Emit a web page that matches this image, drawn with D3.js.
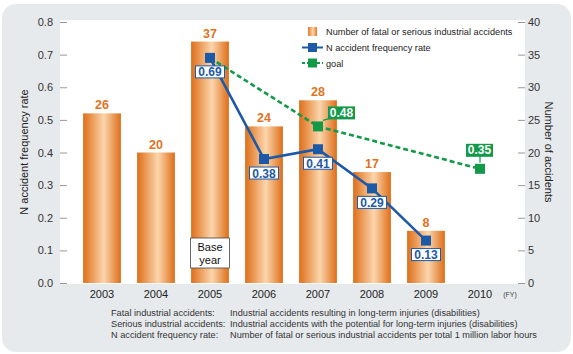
<!DOCTYPE html>
<html>
<head>
<meta charset="utf-8">
<script src="https://cdn.jsdelivr.net/npm/d3@7"></script>
<style>
  html, body { margin: 0; padding: 0; background: #fff; }
  svg { display: block; font-family: "Liberation Sans", Arial, sans-serif; }
</style>
</head>
<body>
<div id="chart"></div>
<script>
// data
const years = ["2003", "2004", "2005", "2006", "2007", "2008", "2009", "2010"];
const accidents = [26, 20, 37, 24, 28, 17, 8, null];
const rateYears = ["2005", "2006", "2007", "2008", "2009"];
const rateValues = [0.69, 0.38, 0.41, 0.29, 0.13];
const goalYears = ["2005", "2007", "2010"];
const goalValues = [0.69, 0.48, 0.35];
const leftTicks = [0, 0.1, 0.2, 0.3, 0.4, 0.5, 0.6, 0.7, 0.8];
const rightTicks = [0, 5, 10, 15, 20, 25, 30, 35, 40];
const notes = [
    ["Fatal industrial accidents:", "Industrial accidents resulting in long-term injuries (disabilities)"],
    ["Serious industrial accidents:", "Industrial accidents with the potential for long-term injuries (disabilities)"],
    ["N accident frequency rate:", "Number of fatal or serious industrial accidents per total 1 million labor hours"]
];

const W = 573, H = 354;
const plot = { left: 60, right: 525, top: 20, bottom: 284 };
const orange = "#e0731e", blue = "#1c5aa8", green = "#129a48";

const svg = d3.select("#chart").append("svg")
    .attr("width", W)
    .attr("height", H);

// gradient for bars
const defs = svg.append("defs");
const grad = defs.append("linearGradient").attr("id", "barGrad")
    .attr("x1", "0%").attr("x2", "100%").attr("y1", "0%").attr("y2", "0%");
grad.append("stop").attr("offset", "0%").attr("stop-color", "#de6e18");
grad.append("stop").attr("offset", "55%").attr("stop-color", "#fcd6ad");
grad.append("stop").attr("offset", "100%").attr("stop-color", "#de6e18");

const legGrad = defs.append("linearGradient").attr("id", "legGrad")
    .attr("x1", "0%").attr("x2", "100%");
legGrad.append("stop").attr("offset", "0%").attr("stop-color", "#e07a2a");
legGrad.append("stop").attr("offset", "55%").attr("stop-color", "#fcd6ad");
legGrad.append("stop").attr("offset", "100%").attr("stop-color", "#e07a2a");

// background panel + plot area
svg.append("rect")
    .attr("x", 2).attr("y", 4)
    .attr("width", W - 4).attr("height", H - 6)
    .attr("rx", 14)
    .attr("fill", "#e7eaed");
svg.append("rect")
    .attr("x", plot.left).attr("y", plot.top)
    .attr("width", plot.right - plot.left)
    .attr("height", plot.bottom - plot.top)
    .attr("fill", "#fff");

// scales
const x = d3.scaleBand()
    .domain(years)
    .range([75, 507])
    .paddingInner(0.3)
    .paddingOuter(0.15);
const cx = d => x(d) + x.bandwidth() / 2;

const yL = d3.scaleLinear().domain([0, 0.8]).range([283, 22]);
const yR = d3.scaleLinear().domain([0, 40]).range([283, 22]);

// axes (ticks drawn inside the plot edge)
const axisL = svg.append("g")
    .attr("transform", `translate(${plot.left},0)`)
    .call(d3.axisRight(yL).tickValues(leftTicks).tickSize(7).tickFormat(d3.format(".1f")));
axisL.select(".domain").remove();
axisL.selectAll(".tick line").attr("stroke", "#999");
axisL.selectAll(".tick text")
    .attr("x", -7).attr("text-anchor", "end")
    .attr("fill", "#333").style("font-size", "11px");

const axisR = svg.append("g")
    .attr("transform", `translate(${plot.right},0)`)
    .call(d3.axisLeft(yR).tickValues(rightTicks).tickSize(7));
axisR.select(".domain").remove();
axisR.selectAll(".tick line").attr("stroke", "#999");
axisR.selectAll(".tick text")
    .attr("x", 3).attr("text-anchor", "start")
    .attr("fill", "#333").style("font-size", "11px");

svg.append("text")
    .attr("transform", `translate(28,${(plot.top + plot.bottom) / 2}) rotate(-90)`)
    .attr("text-anchor", "middle")
    .attr("fill", "#222")
    .style("font-size", "11px")
    .text("N accident frequency rate");
svg.append("text")
    .attr("transform", `translate(545,${(plot.top + plot.bottom) / 2}) rotate(90)`)
    .attr("text-anchor", "middle")
    .attr("fill", "#222")
    .style("font-size", "11px")
    .text("Number of accidents");

// x labels
svg.append("g").selectAll("text")
    .data(years)
    .enter().append("text")
    .attr("x", d => cx(d))
    .attr("y", 298)
    .attr("text-anchor", "middle")
    .attr("fill", "#222")
    .style("font-size", "11px")
    .text(d => d);
svg.append("text")
    .attr("x", 510).attr("y", 297)
    .attr("text-anchor", "middle")
    .attr("fill", "#444")
    .style("font-size", "7px")
    .text("(FY)");

// bars
const barData = years.map((yr, i) => ({ yr, v: accidents[i] })).filter(d => d.v != null);
svg.append("g").selectAll("rect")
    .data(barData)
    .enter().append("rect")
    .attr("x", d => x(d.yr))
    .attr("y", d => yR(d.v))
    .attr("width", x.bandwidth())
    .attr("height", d => yR(0) - yR(d.v))
    .attr("fill", "url(#barGrad)");
svg.append("g").selectAll("text")
    .data(barData)
    .enter().append("text")
    .attr("x", d => cx(d.yr))
    .attr("y", d => yR(d.v) - 4)
    .attr("text-anchor", "middle")
    .attr("fill", orange)
    .style("font-size", "12.5px")
    .style("font-weight", "bold")
    .text(d => d.v);

// base year box
const baseG = svg.append("g");
baseG.append("rect")
    .attr("x", cx("2005") - 19.5).attr("y", 238)
    .attr("width", 39).attr("height", 30)
    .attr("fill", "#fff").attr("stroke", "#444").attr("stroke-width", 0.8);
baseG.append("text")
    .attr("x", cx("2005")).attr("y", 251)
    .attr("text-anchor", "middle").attr("fill", "#111")
    .style("font-size", "11px").text("Base");
baseG.append("text")
    .attr("x", cx("2005")).attr("y", 264)
    .attr("text-anchor", "middle").attr("fill", "#111")
    .style("font-size", "11px").text("year");

// goal line
const goalData = goalYears.map((yr, i) => ({ yr, v: goalValues[i] }));
svg.append("path")
    .datum(goalData)
    .attr("fill", "none")
    .attr("stroke", green)
    .attr("stroke-width", 2.6)
    .attr("stroke-dasharray", "5,3")
    .attr("d", d3.line().x(d => cx(d.yr)).y(d => yL(d.v)));

// rate line
const rateData = rateYears.map((yr, i) => ({ yr, v: rateValues[i] }));
svg.append("path")
    .datum(rateData)
    .attr("fill", "none")
    .attr("stroke", blue)
    .attr("stroke-width", 2.6)
    .attr("d", d3.line().x(d => cx(d.yr)).y(d => yL(d.v)));

// goal markers (not at the base year, which is the rate point)
const goalMarks = goalData.slice(1);
svg.append("g").selectAll("rect")
    .data(goalMarks)
    .enter().append("rect")
    .attr("x", d => cx(d.yr) - 5).attr("y", d => yL(d.v) - 5)
    .attr("width", 10).attr("height", 10)
    .attr("fill", green);

// goal labels: first one sits up-right, second straight above
const gOff = [{ dx: 10, dy: -20, lx: 5, ly: -6 }, { dx: -14, dy: -25, lx: 0, ly: -6 }];
const goalLab = svg.append("g").selectAll("g")
    .data(goalMarks)
    .enter().append("g");
goalLab.append("line")
    .attr("x1", (d, i) => cx(d.yr) + gOff[i].lx)
    .attr("y1", (d, i) => yL(d.v) + gOff[i].ly)
    .attr("x2", (d, i) => cx(d.yr) + gOff[i].dx + (i === 0 ? 2 : 14))
    .attr("y2", (d, i) => yL(d.v) + gOff[i].dy + 12)
    .attr("stroke", green).attr("stroke-width", 1.2);
goalLab.append("rect")
    .attr("x", (d, i) => cx(d.yr) + gOff[i].dx)
    .attr("y", (d, i) => yL(d.v) + gOff[i].dy)
    .attr("width", 27).attr("height", 13)
    .attr("fill", green);
goalLab.append("text")
    .attr("x", (d, i) => cx(d.yr) + gOff[i].dx + 13.5)
    .attr("y", (d, i) => yL(d.v) + gOff[i].dy + 10.5)
    .attr("text-anchor", "middle")
    .attr("fill", "#fff")
    .style("font-size", "12px").style("font-weight", "bold")
    .text(d => d.v.toFixed(2));

// rate markers
svg.append("g").selectAll("rect")
    .data(rateData)
    .enter().append("rect")
    .attr("x", d => cx(d.yr) - 5).attr("y", d => yL(d.v) - 5)
    .attr("width", 10).attr("height", 10)
    .attr("fill", blue);

// rate labels
const rateLab = svg.append("g").selectAll("g")
    .data(rateData)
    .enter().append("g");
rateLab.append("rect")
    .attr("x", d => cx(d.yr) - 14.5)
    .attr("y", d => yL(d.v) + 8)
    .attr("width", 29).attr("height", 12)
    .attr("fill", "#fff").attr("stroke", blue).attr("stroke-width", 1);
rateLab.append("text")
    .attr("x", d => cx(d.yr))
    .attr("y", d => yL(d.v) + 18.5)
    .attr("text-anchor", "middle")
    .attr("fill", blue)
    .style("font-size", "12px").style("font-weight", "bold")
    .text(d => d.v.toFixed(2));

// legend
const leg = svg.append("g").attr("transform", "translate(302,0)");
leg.append("rect").attr("x", 6).attr("y", 27).attr("width", 9).attr("height", 9)
    .attr("fill", "url(#legGrad)");
leg.append("text").attr("x", 24).attr("y", 35).attr("fill", "#222")
    .style("font-size", "9.2px").text("Number of fatal or serious industrial accidents");
leg.append("line").attr("x1", 0).attr("x2", 21).attr("y1", 47.5).attr("y2", 47.5)
    .attr("stroke", blue).attr("stroke-width", 2);
leg.append("rect").attr("x", 6).attr("y", 43).attr("width", 9).attr("height", 9).attr("fill", blue);
leg.append("text").attr("x", 24).attr("y", 51).attr("fill", "#222")
    .style("font-size", "9.2px").text("N accident frequency rate");
leg.append("line").attr("x1", 0).attr("x2", 21).attr("y1", 63).attr("y2", 63)
    .attr("stroke", green).attr("stroke-width", 2).attr("stroke-dasharray", "3,2");
leg.append("rect").attr("x", 6).attr("y", 58.5).attr("width", 9).attr("height", 9).attr("fill", green);
leg.append("text").attr("x", 24).attr("y", 66.5).attr("fill", "#222")
    .style("font-size", "9.2px").text("goal");

// footnotes
const foot = svg.append("g").selectAll("g")
    .data(notes)
    .enter().append("g");
foot.append("text")
    .attr("x", 111).attr("y", (d, i) => 316 + i * 11)
    .attr("fill", "#333").style("font-size", "9.2px")
    .text(d => d[0]);
foot.append("text")
    .attr("x", 230).attr("y", (d, i) => 316 + i * 11)
    .attr("fill", "#333").style("font-size", "9.2px")
    .text(d => d[1]);
</script>
</body>
</html>
